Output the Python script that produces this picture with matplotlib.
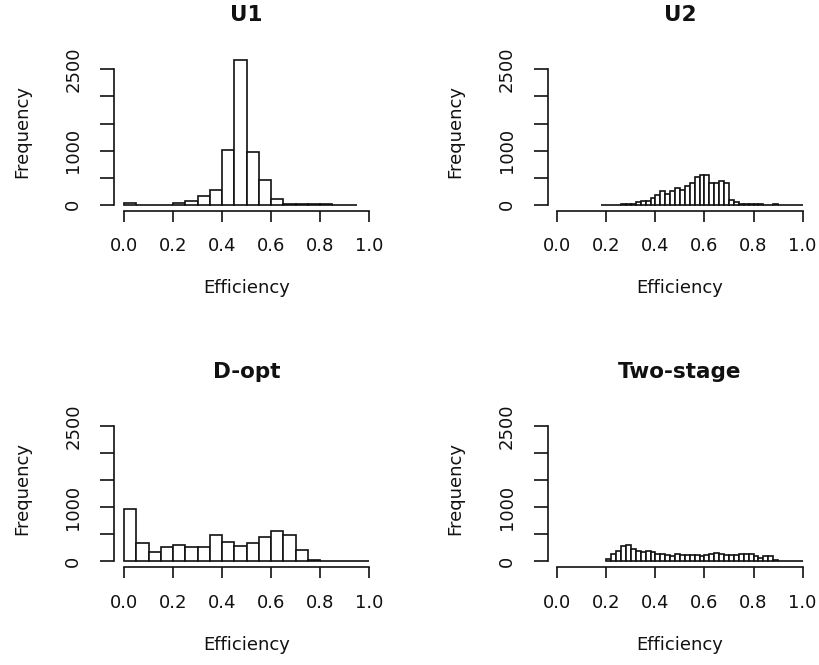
import numpy as np
import matplotlib
matplotlib.use('Agg')
import matplotlib.pyplot as plt

plt.rcParams['font.family'] = ['DejaVu Sans']

# ---------------- data ----------------
titles = ['U1', 'U2', 'D-opt', 'Two-stage']
x_label = 'Efficiency'
y_label = 'Frequency'

# U1: bins of width 0.05 starting at 0.00
u1_start, u1_width = 0.00, 0.05
u1_counts = [40, 0, 0, 3, 25, 75, 160, 278, 1013, 2680, 979, 462, 98,
             22, 20, 18, 15, 2, 1]

# U2: bins of width 0.02 starting at 0.18
u2_start, u2_width = 0.18, 0.02
u2_counts = [1, 0, 1, 2, 10, 15, 20, 49, 74, 74, 123, 182, 252, 190, 252,
             305, 280, 338, 403, 514, 557, 557, 403, 403, 431, 406, 92, 43,
             15, 12, 12, 10, 8, 0, 0, 20, 0, 0, 0, 0, 1]

# D-opt: bins of width 0.05 starting at 0.00
dopt_start, dopt_width = 0.00, 0.05
dopt_counts = [960, 332, 179, 259, 308, 259, 259, 493, 363, 283, 333, 443,
               567, 493, 203, 31, 0, 0, 0, 2]

# Two-stage: bins of width 0.02 starting at 0.20
two_start, two_width = 0.20, 0.02
two_counts = [45, 132, 194, 284, 308, 228, 200, 175, 185, 172, 145, 135,
              125, 100, 142, 123, 123, 123, 123, 100, 123, 142, 160, 135,
              123, 123, 123, 135, 135, 135, 100, 70, 90, 105, 25, 0, 0, 0,
              0, 1]

x_ticks = [0.0, 0.2, 0.4, 0.6, 0.8, 1.0]
x_tick_labels = ['0.0', '0.2', '0.4', '0.6', '0.8', '1.0']
y_ticks = [0, 500, 1000, 1500, 2000, 2500]
y_tick_labels = ['0', '', '1000', '', '', '2500']

panels = [
    (u1_start, u1_width, u1_counts),
    (u2_start, u2_width, u2_counts),
    (dopt_start, dopt_width, dopt_counts),
    (two_start, two_width, two_counts),
]

# ---------------- layout ----------------
W, H = 820, 665
fig = plt.figure(figsize=(W / 100, H / 100), dpi=100)
fig.patch.set_facecolor('white')

lefts_px = [114.2, 547.5]
bottoms_px = [210.6, 567.2]
w_px, h_px = 264.9, 157.9
lw = 1.2
ink = '#111111'

for i, (start, bw, counts) in enumerate(panels):
    col, row = i % 2, i // 2
    l, b = lefts_px[col], bottoms_px[row]
    ax = fig.add_axes([l / W, 1 - b / H, w_px / W, h_px / H])
    counts = np.asarray(counts, dtype=float)
    edges = start + bw * np.arange(len(counts))
    ax.bar(edges, counts, width=bw, align='edge', facecolor='white',
           edgecolor=ink, linewidth=lw)
    ax.set_xlim(-0.04, 1.04)
    ax.set_ylim(-108, 2808)
    for s in ('top', 'right'):
        ax.spines[s].set_visible(False)
    ax.spines['left'].set_bounds(0, 2500)
    ax.spines['bottom'].set_bounds(0, 1)
    for s in ('left', 'bottom'):
        ax.spines[s].set_linewidth(lw)
        ax.spines[s].set_color(ink)
    ax.set_xticks(x_ticks)
    ax.set_xticklabels(x_tick_labels)
    ax.set_yticks(y_ticks)
    ax.set_yticklabels(y_tick_labels)
    ax.tick_params(axis='x', length=8, width=lw, pad=11, labelsize=13,
                   color=ink, labelcolor=ink)
    ax.tick_params(axis='y', length=10, width=lw, pad=13, labelsize=13,
                   color=ink, labelcolor=ink)
    for lab in ax.get_yticklabels():
        lab.set_rotation(90)
        lab.set_va('center')
    ax.set_facecolor('none')

    cx = (l + w_px / 2) / W
    top_px = b - h_px
    fig.text(cx, 1 - (top_px - 37.7) / H, titles[i], ha='center',
             va='center', fontsize=15.5, fontweight='bold', color=ink)
    fig.text(cx, 1 - (b + 77.4) / H, x_label, ha='center', va='center',
             fontsize=13, color=ink)
    fig.text((l - 92) / W, 1 - (b - h_px / 2) / H, y_label, ha='center',
             va='center', rotation=90, fontsize=13, color=ink)

fig.savefig('out.png', dpi=100, facecolor='white')
